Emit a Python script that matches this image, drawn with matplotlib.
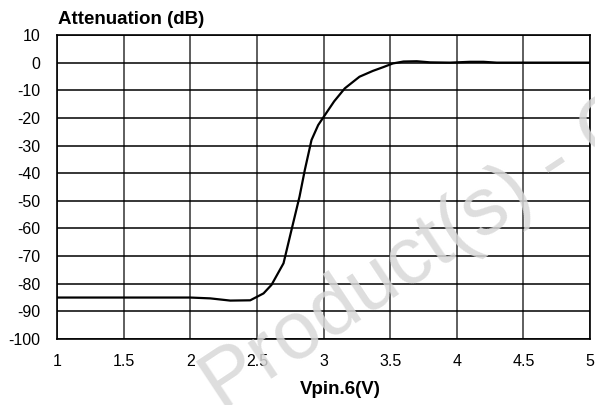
import matplotlib
matplotlib.use("Agg")
import matplotlib.pyplot as plt
import numpy as np

plt.rcParams['font.family'] = ['Liberation Sans', 'DejaVu Sans']

vpin = [1.0, 1.5, 2.0, 2.15, 2.3, 2.45, 2.55, 2.61, 2.70, 2.76, 2.82, 2.86, 2.91, 2.96,
        3.01, 3.08, 3.16, 3.27, 3.37, 3.45, 3.52, 3.6, 3.7, 3.8, 3.95, 4.1, 4.2, 4.3, 4.6, 5.0]
atten = [-85.0, -85.0, -85.0, -85.3, -86.1, -86.0, -83.5, -80.4, -72.6, -60.5, -48.5, -38.8, -28.0, -22.6,
         -19.0, -14.0, -9.3, -5.1, -3.0, -1.6, -0.3, 0.4, 0.5, 0.1, 0.0, 0.3, 0.3, 0.0, 0.0, 0.0]

xticks = [1, 1.5, 2, 2.5, 3, 3.5, 4, 4.5, 5]
xticklabels = ['1', '1.5', '2', '2.5', '3', '3.5', '4', '4.5', '5']
yticks = list(range(-100, 11, 10))

fig = plt.figure(figsize=(5.95, 4.05), dpi=100)
ax = fig.add_axes([57/595, 1 - 339/405, (590-57)/595, (339-35)/405])

ax.plot(vpin, atten, color='black', lw=1.6, zorder=3)
ax.set_xlim(1, 5)
ax.set_ylim(-100, 10)
ax.set_xticks(xticks)
ax.set_xticklabels(xticklabels)
ax.set_yticks(yticks)
ax.set_yticklabels([str(t) for t in yticks])
ax.xaxis.grid(True, color='#333333', lw=1.1)
ax.yaxis.grid(True, color='black', lw=1.1)
ax.set_axisbelow(True)
for s in ax.spines.values():
    s.set_linewidth(1.2)
ax.tick_params(length=0, labelsize=11.5)
ax.tick_params(axis='x', pad=11)
ax.tick_params(axis='y', pad=12)

fig.text(58/595, 1 - 19/405, 'Attenuation (dB)', fontsize=13.5, fontweight='bold',
         ha='left', va='center')
fig.text(340/595, 1 - 390/405, 'Vpin.6(V)', fontsize=13.5, fontweight='bold',
         ha='center', va='center')

fig.text(222/595, 1 - 412/405, 'Product(s) - Contact', fontsize=59, color='#d8d8d8',
         alpha=0.85, rotation=33.5, ha='left', va='baseline', rotation_mode='anchor', zorder=10)

fig.savefig('out.png', dpi=100)
